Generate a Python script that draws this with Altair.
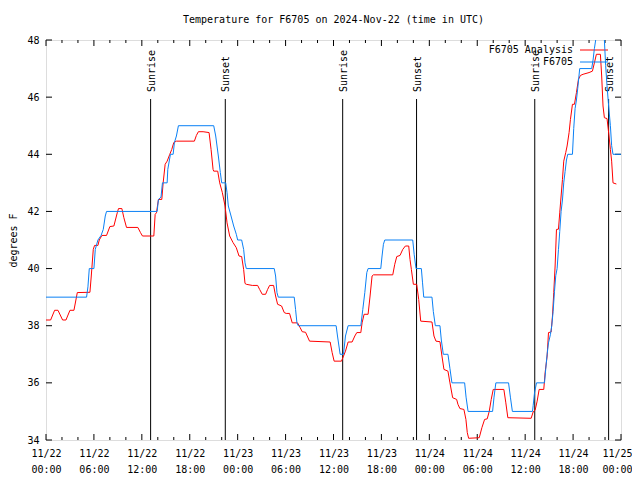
import altair as alt
import pandas as pd

# ---------------- data ----------------
title_text = "Temperature for F6705 on 2024-Nov-22 (time in UTC)"
y_title = "degrees F"
series_names = ["F6705 Analysis", "F6705"]
series_colors = ["#ff0000", "#0a80f5"]
start_month = 11
start_day = 22

# F6705 Analysis (red): hours since 2024-11-22 00:00 UTC, temperature (F)
analysis_hours = [0, 0.58, 1.08, 1.5, 2.08, 2.5, 3.0, 3.5, 3.92, 5.5, 5.67, 5.92, 6.08, 6.5, 6.67,
                  7.0, 7.58, 8.0, 8.5, 8.92, 9.08, 9.5, 9.75, 10.08, 11.5, 11.83, 12.08, 13.5, 13.67,
                  13.83, 14.08, 14.5, 14.67, 14.92, 15.17, 15.5, 15.75, 16.0, 16.33, 18.58, 18.83,
                  19.08, 19.67, 20.42, 20.67, 20.92, 21.0, 21.5, 21.75, 22.08, 22.42, 22.67, 23.0,
                  23.42, 23.83, 24.17, 24.5, 24.75, 24.92, 25.08, 25.83, 26.5, 26.75, 27.08, 27.5,
                  27.75, 28.0, 28.5, 28.75, 29.0, 29.5, 29.83, 30.08, 30.5, 30.83, 31.5, 31.83,
                  32.08, 32.5, 33.0, 35.58, 35.83, 36.08, 37.0, 37.5, 37.83, 38.33, 38.67, 38.92,
                  39.42, 39.58, 39.83, 40.33, 40.58, 40.83, 41.0, 43.42, 43.67, 43.92, 44.33, 44.67,
                  45.0, 45.42, 45.58, 45.75, 46.0, 46.42, 46.67, 46.92, 48.33, 48.58, 48.83, 49.33,
                  49.58, 49.83, 50.33, 50.58, 50.92, 51.42, 51.58, 51.83, 52.33, 52.58, 52.75, 52.92,
                  54.25, 54.58, 54.92, 55.25, 55.5, 55.75, 56.0, 57.33, 57.58, 57.83, 60.75, 61.0,
                  61.25, 61.5, 61.75, 62.33, 62.5, 62.75, 62.92, 63.25, 63.42, 63.58, 63.75, 63.92,
                  64.17, 64.33, 64.5, 64.67, 64.83, 65.08, 65.25, 65.5, 65.67, 65.92, 66.17, 66.42,
                  66.67, 66.92, 67.25, 68.0, 68.42, 68.67, 68.92, 69.42, 69.58, 69.75, 69.92, 70.25,
                  70.5, 70.67, 70.83, 71.0, 71.42]
analysis_temps = [38.2, 38.2, 38.54, 38.54, 38.2, 38.2, 38.54, 38.54, 39.16, 39.17, 39.74, 40.67, 40.81,
                  40.81, 41.0, 41.16, 41.16, 41.47, 41.49, 41.95, 42.1, 42.1, 41.78, 41.44, 41.44,
                  41.26, 41.14, 41.14, 41.9, 41.95, 42.42, 42.42, 43.0, 43.65, 43.76, 44.0, 44.17,
                  44.41, 44.46, 44.46, 44.66, 44.79, 44.79, 44.76, 44.17, 43.47, 43.41, 43.41, 43.0,
                  42.66, 42.19, 41.6, 41.14, 40.91, 40.73, 40.44, 40.42, 39.97, 39.48, 39.45, 39.41,
                  39.41, 39.27, 39.1, 39.1, 39.27, 39.41, 39.41, 39.04, 38.75, 38.69, 38.46, 38.43,
                  38.43, 38.1, 38.1, 37.93, 37.79, 37.77, 37.46, 37.43, 37.06, 36.76, 36.76, 37.11,
                  37.43, 37.43, 37.64, 37.76, 37.76, 38.1, 38.4, 38.4, 39.04, 39.74, 39.78, 39.78,
                  40.15, 40.42, 40.46, 40.67, 40.79, 40.79, 40.32, 39.97, 39.45, 39.45, 38.92, 38.16,
                  38.13, 37.64, 37.46, 37.44, 36.94, 36.47, 36.41, 36.0, 35.48, 35.42, 35.25, 35.1,
                  35.07, 34.72, 34.26, 34.06, 34.08, 34.43, 34.72, 34.74, 35.0, 35.42, 35.77, 35.77,
                  35.3, 34.78, 34.76, 34.98, 35.05, 35.36, 35.77, 35.77, 36.36, 36.94, 37.76, 37.78,
                  38.34, 39.16, 40.09, 41.37, 41.38, 41.95, 42.54, 43.12, 43.76, 44.06, 44.29, 44.76,
                  45.22, 45.75, 45.75, 46.16, 46.62, 46.76, 46.8, 46.86, 46.91, 47.2, 47.5, 47.5,
                  46.74, 45.69, 45.28, 45.25, 44.64, 44.17, 43.76, 43.0, 42.96]

# F6705 (blue)
station_hours = [0, 5.08, 5.25, 5.42, 6.0, 6.17, 6.5, 6.9, 7.17, 7.42, 7.58, 13.92, 14.08, 14.4, 14.58,
                 15.17, 15.25, 15.58, 15.92, 16.08, 16.33, 16.58, 21.0, 21.25, 21.58, 21.83, 22.0,
                 22.5, 22.67, 22.83, 23.17, 23.5, 23.83, 24.0, 24.5, 24.75, 24.92, 25.08, 28.58,
                 28.75, 28.92, 29.08, 31.08, 31.25, 31.42, 31.58, 36.33, 36.5, 36.83, 37.25, 37.5,
                 37.83, 39.42, 39.67, 39.92, 40.17, 40.33, 41.92, 42.08, 42.25, 42.42, 45.92, 46.1,
                 46.33, 47.0, 47.15, 47.3, 48.33, 48.5, 48.75, 49.33, 49.5, 49.75, 50.33, 50.58,
                 50.83, 52.42, 52.6, 52.85, 55.92, 56.1, 56.33, 57.92, 58.15, 58.4, 60.92, 61.0,
                 61.17, 61.42, 62.42, 62.58, 62.75, 62.92, 63.17, 63.33, 63.5, 63.67, 63.83, 64.0,
                 64.17, 64.33, 64.5, 64.67, 64.83, 65.0, 65.17, 65.33, 65.92, 66.08, 66.25, 66.42,
                 66.58, 66.83, 68.33, 68.5, 68.67, 68.83, 69.2, 69.6, 69.92, 70.08, 70.25, 70.42,
                 70.67, 70.83, 71.0, 72.0]
station_temps = [39.0, 39.0, 39.36, 40.0, 40.0, 40.67, 41.0, 41.16, 41.37, 41.84, 42.0, 42.0, 42.42,
                 42.5, 43.0, 43.0, 43.47, 44.0, 44.0, 44.41, 44.64, 45.0, 45.0, 44.64, 43.94, 43.36,
                 43.0, 43.0, 42.66, 42.19, 41.84, 41.49, 41.2, 41.0, 41.0, 40.67, 40.2, 40.0, 40.0,
                 39.74, 39.16, 39.0, 39.0, 38.57, 38.1, 38.0, 38.0, 37.64, 37.0, 37.0, 37.64, 38.0,
                 38.0, 38.57, 39.16, 39.86, 40.0, 40.0, 40.44, 40.85, 41.0, 41.0, 40.5, 40.0, 40.0,
                 39.5, 39.0, 39.0, 38.5, 38.0, 38.0, 37.5, 37.0, 37.0, 36.5, 36.0, 36.0, 35.5, 35.0,
                 35.0, 35.5, 36.0, 36.0, 35.5, 35.0, 35.0, 35.2, 35.65, 36.0, 36.0, 36.5, 37.0, 37.4,
                 37.7, 38.0, 38.5, 39.2, 39.75, 40.0, 40.67, 41.3, 42.0, 42.4, 43.0, 43.4, 43.8, 44.0,
                 44.0, 44.9, 45.6, 45.9, 46.3, 47.0, 47.0, 47.3, 47.7, 48.0, 48.4, 48.4, 48.0, 47.1,
                 46.4, 45.8, 45.0, 44.3, 44.0, 44.0]

sun_hours = [13.1, 22.45, 37.15, 46.4, 61.2, 70.45]
sun_labels = ["Sunrise", "Sunset", "Sunrise", "Sunset", "Sunrise", "Sunset"]

x_major = [0, 6, 12, 18, 24, 30, 36, 42, 48, 54, 60, 66, 72]
x_minor = [2, 4, 8, 10, 14, 16, 20, 22, 26, 28, 32, 34, 38, 40, 44, 46, 50, 52, 56, 58, 62, 64, 68, 70]
y_ticks = [34, 36, 38, 40, 42, 44, 46, 48]

# ---------------- styling ----------------
W, H = 575, 400
FONT = "DejaVu Sans Mono"

xs = alt.Scale(domain=[0, 72], nice=False, zero=False)
ys = alt.Scale(domain=[34, 48], nice=False, zero=False)

label_expr = ("['" + str(start_month) + "/' + format(" + str(start_day) +
              " + floor(datum.value / 24), 'd'), format(datum.value % 24, '02d') + ':00']")

x_axis = alt.Axis(values=x_major, ticks=False, domain=False, grid=False, title="",
                  labelExpr=label_expr, labelFont=FONT, labelFontSize=10, labelColor="black",
                  labelPadding=8, labelLineHeight=16, labelBaseline="top",
                  labelOverlap=False, labelFlush=False,
                  labelOffset={"condition": {"test": "datum.value == 72", "value": -4}, "value": 0})
y_axis = alt.Axis(values=y_ticks, ticks=False, domain=False, grid=False, title=y_title,
                  labelFont=FONT, labelFontSize=10, labelColor="black", labelPadding=7,
                  titleFont=FONT, titleFontSize=10, titleFontWeight="normal", titleColor="black",
                  titleX=-33, titleY=200, titleAngle=270, titleAlign="center",
                  titleBaseline="middle")


def X(field="h"):
    return alt.X(f"{field}:Q", scale=xs, axis=x_axis)


def Y(field="v"):
    return alt.Y(f"{field}:Q", scale=ys, axis=y_axis)


red_df = pd.DataFrame({"h": analysis_hours, "v": analysis_temps})
blue_df = pd.DataFrame({"h": station_hours, "v": station_temps})
sun_df = pd.DataFrame({"h": sun_hours, "label": sun_labels})
xmaj_df = pd.DataFrame({"h": x_major})
xmin_df = pd.DataFrame({"h": x_minor})
yt_df = pd.DataFrame({"v": y_ticks})
leg_df = pd.DataFrame({"name": series_names, "color": series_colors})

red_line = alt.Chart(red_df).mark_line(color=series_colors[0], strokeWidth=1, clip=True).encode(
    x=X(), y=Y())
blue_line = alt.Chart(blue_df).mark_line(color=series_colors[1], strokeWidth=1, clip=True).encode(
    x=X(), y=Y())

# inward ticks (gnuplot style) on all four sides
tick_color = "black"
xmaj_bot = alt.Chart(xmaj_df).mark_rule(color=tick_color, strokeWidth=1).encode(
    x=X(), y=alt.value(H), y2=alt.value(H - 6))
xmaj_top = alt.Chart(xmaj_df).mark_rule(color=tick_color, strokeWidth=1).encode(
    x=X(), y=alt.value(0), y2=alt.value(6))
xmin_bot = alt.Chart(xmin_df).mark_rule(color=tick_color, strokeWidth=1).encode(
    x=X(), y=alt.value(H), y2=alt.value(H - 3))
xmin_top = alt.Chart(xmin_df).mark_rule(color=tick_color, strokeWidth=1).encode(
    x=X(), y=alt.value(0), y2=alt.value(3))
y_left = alt.Chart(yt_df).mark_rule(color=tick_color, strokeWidth=1).encode(
    y=Y(), x=alt.value(0), x2=alt.value(6))
y_right = alt.Chart(yt_df).mark_rule(color=tick_color, strokeWidth=1).encode(
    y=Y(), x=alt.value(W), x2=alt.value(W - 6))

sun_rules = alt.Chart(sun_df).mark_rule(color="black", strokeWidth=1).encode(
    x=X(), y=alt.value(59), y2=alt.value(H))
sun_text = alt.Chart(sun_df).mark_text(font=FONT, fontSize=10, angle=270, align="left",
                                       baseline="middle", color="black", dy=1).encode(
    x=X(), y=alt.value(52), text="label:N")

# key (gnuplot style: label then line sample), top right inside the plot
leg_text1 = alt.Chart(leg_df.iloc[[0]]).mark_text(font=FONT, fontSize=10, align="right",
                                                  baseline="middle", color="black").encode(
    x=alt.value(527), y=alt.value(10), text="name:N")
leg_text2 = alt.Chart(leg_df.iloc[[1]]).mark_text(font=FONT, fontSize=10, align="right",
                                                  baseline="middle", color="black").encode(
    x=alt.value(527), y=alt.value(22), text="name:N")
leg_line1 = alt.Chart(leg_df.iloc[[0]]).mark_rule(color=series_colors[0], strokeWidth=1).encode(
    x=alt.value(534), x2=alt.value(562), y=alt.value(10))
leg_line2 = alt.Chart(leg_df.iloc[[1]]).mark_rule(color=series_colors[1], strokeWidth=1).encode(
    x=alt.value(534), x2=alt.value(562), y=alt.value(22))

chart = alt.layer(
    xmaj_bot, xmaj_top, xmin_bot, xmin_top, y_left, y_right,
    sun_rules, sun_text,
    leg_text1, leg_line1, leg_text2,
    red_line, blue_line, leg_line2,
).properties(
    width=W, height=H,
    title=alt.TitleParams(title_text, font=FONT, fontSize=10, fontWeight="normal",
                          color="black", anchor="middle", offset=10),
    autosize=alt.AutoSizeParams(type="none"),
    padding={"left": 38, "top": 32, "right": 11, "bottom": 38},
).configure_view(
    stroke="black", strokeWidth=1
).configure(
    background="white"
)

chart.save("out.html", embed_options={"renderer": "svg", "actions": False})
